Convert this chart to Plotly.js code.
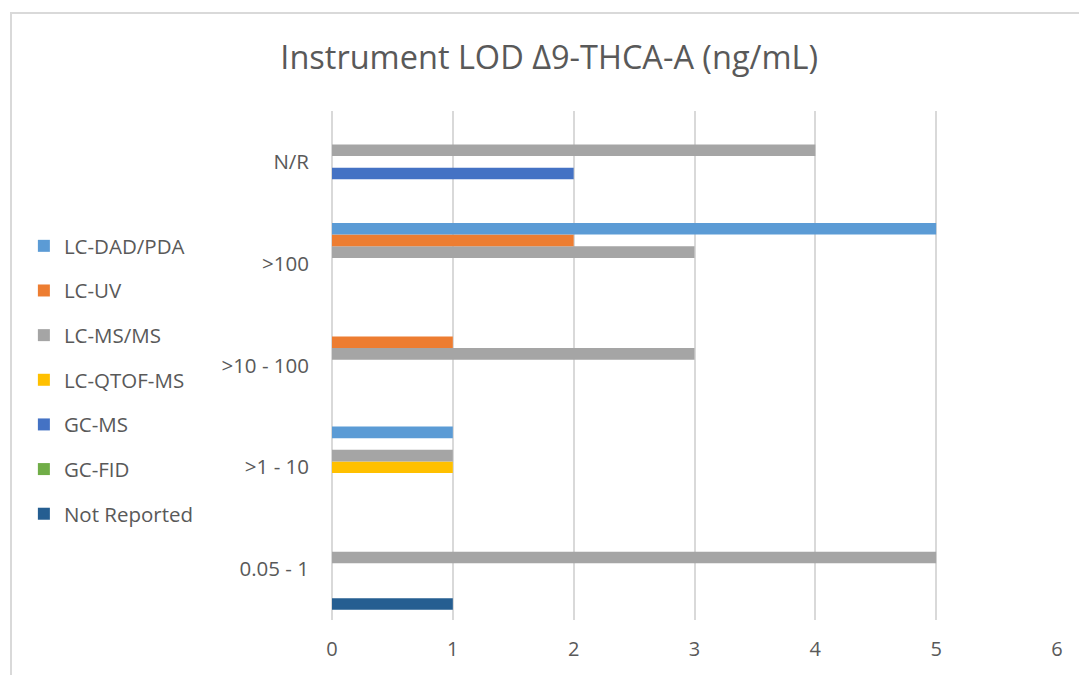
<!DOCTYPE html>
<html>
<head>
<meta charset="utf-8">
<script src="https://cdn.plot.ly/plotly-3.0.1.min.js"></script>
<style>
  html, body { margin: 0; padding: 0; background: #fff; }
  #wrap { position: relative; width: 1079px; height: 675px; overflow: hidden; }
  #chart { width: 1079px; height: 675px; }
  #frame { position: absolute; left: 10px; top: 12px; width: 1100px; height: 700px;
           border: 2px solid #D9D9D9; pointer-events: none; box-sizing: border-box; }
</style>
</head>
<body>
<div id="wrap">
  <div id="chart"></div>
  <div id="frame"></div>
</div>
<script>
// Categories (bottom to top)
const categories = ["0.05 - 1", ">1 - 10", ">10 - 100", ">100", "N/R"];

// Series values, in category order above
const lcDadPda   = [0, 1, 0, 5, 0];
const lcUv       = [0, 0, 1, 2, 0];
const lcMsMs     = [5, 1, 3, 3, 4];
const lcQtofMs   = [0, 1, 0, 0, 0];
const gcMs       = [0, 0, 0, 0, 2];
const gcFid      = [0, 0, 0, 0, 0];
const notReported= [1, 0, 0, 0, 0];

const seriesNames = ["LC-DAD/PDA", "LC-UV", "LC-MS/MS", "LC-QTOF-MS", "GC-MS", "GC-FID", "Not Reported"];
const seriesValues = [lcDadPda, lcUv, lcMsMs, lcQtofMs, gcMs, gcFid, notReported];
const seriesColors = ["#5B9BD5", "#ED7D31", "#A5A5A5", "#FFC000", "#4472C4", "#70AD47", "#255E91"];

const xTicks = [0, 1, 2, 3, 4, 5, 6];

// Plotly places the first trace at the bottom of a group, so add them reversed
const traces = [];
for (let i = seriesNames.length - 1; i >= 0; i--) {
  traces.push({
    type: "bar",
    orientation: "h",
    name: seriesNames[i],
    x: seriesValues[i],
    y: categories,
    legendgroup: "g" + i,
    legendrank: 1000 + i,
    marker: { color: seriesColors[i] },
    hoverinfo: "x+y+name"
  });
}

const textColor = "#595959";
const fontFam = "'Open Sans', 'Noto Sans', sans-serif";

const layout = {
  width: 1079,
  height: 675,
  paper_bgcolor: "#ffffff",
  plot_bgcolor: "#ffffff",
  margin: { l: 332, r: 22, t: 111, b: 55 },
  font: { family: fontFam, color: textColor, size: 21 },
  title: {
    text: "Instrument LOD Δ9-THCA-A (ng/mL)",
    font: { family: fontFam, size: 32.5, color: textColor },
    xref: "container", x: 0.509, xanchor: "center",
    yref: "container", y: 0.915, yanchor: "middle"
  },
  barmode: "group",
  bargap: 0.2,
  bargroupgap: 0,
  xaxis: {
    range: [0, 6],
    tickvals: xTicks,
    ticktext: xTicks.map(String),
    showgrid: true,
    gridcolor: "#D9D9D9",
    gridwidth: 2,
    zeroline: true,
    zerolinecolor: "#D9D9D9",
    zerolinewidth: 2,
    showline: false,
    ticks: "",
    ticklabelstandoff: 15,
    tickfont: { family: fontFam, size: 20, color: textColor },
    fixedrange: true
  },
  yaxis: {
    type: "category",
    categoryorder: "array",
    categoryarray: categories,
    showgrid: false,
    zeroline: false,
    showline: false,
    ticks: "",
    ticklabelstandoff: 22,
    tickfont: { family: fontFam, size: 20.5, color: textColor },
    fixedrange: true
  },
  showlegend: true,
  legend: {
    x: -0.425, xanchor: "left",
    y: 0.4715, yanchor: "middle",
    traceorder: "grouped",
    tracegroupgap: 15,
    font: { family: fontFam, size: 20.5, color: textColor },
    bgcolor: "rgba(0,0,0,0)",
    itemwidth: 30
  }
};

Plotly.newPlot("chart", traces, layout, { displayModeBar: false, staticPlot: true });
</script>
</body>
</html>
